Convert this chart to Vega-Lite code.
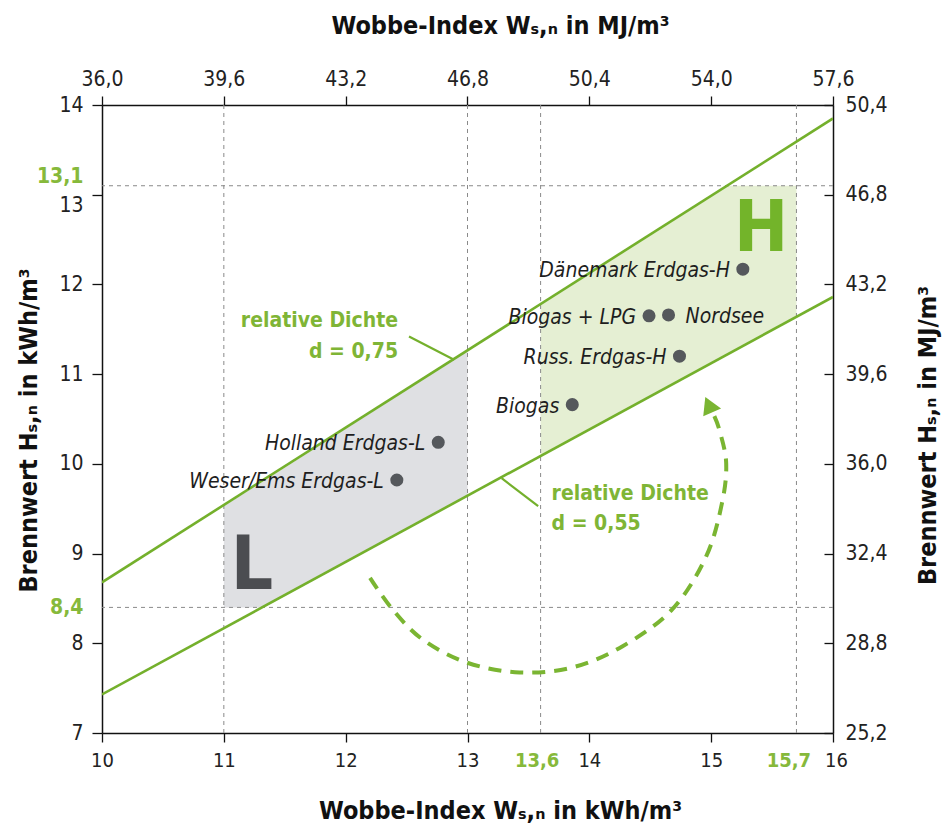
{
  "$schema": "https://vega.github.io/schema/vega-lite/v6.json",
  "autosize": {"type": "none"},
  "padding": {"left": 102, "top": 105, "right": 117, "bottom": 102},
  "width": 731,
  "height": 628,
  "background": "white",
  "config": {
    "view": {"stroke": null},
    "font": "Liberation Sans Narrow, DejaVu Sans Condensed, sans-serif",
    "axis": {
      "grid": false,
      "labelOverlap": false,
      "labelFlush": false,
      "labelBound": false,
      "domainColor": "#111",
      "domainWidth": 1.5,
      "tickColor": "#111",
      "tickWidth": 1.3,
      "labelFont": "Liberation Sans Narrow, DejaVu Sans Condensed, sans-serif",
      "labelFontSize": 21,
      "labelColor": "#222",
      "titleFont": "Liberation Sans Narrow, DejaVu Sans Condensed, sans-serif",
      "titleFontSize": 25,
      "titleFontWeight": "bold",
      "titleColor": "#111"
    }
  },
  "datasets": {
    "regions": [
      {"region": "L", "w": 11, "lo": 8.4, "hi": 9.53},
      {"region": "L", "w": 11.33, "lo": 8.4, "hi": 9.81},
      {"region": "L", "w": 13, "lo": 9.64, "hi": 11.26},
      {"region": "H", "w": 13.6, "lo": 10.09, "hi": 11.78},
      {"region": "H", "w": 15.13, "lo": 11.22, "hi": 13.1},
      {"region": "H", "w": 15.7, "lo": 11.64, "hi": 13.1}
    ],
    "vgrid": [{"w": 11}, {"w": 13}, {"w": 13.6}, {"w": 15.7}],
    "hgrid": [{"h": 8.4}, {"h": 13.1}],
    "density": [
      {"d": "0,75", "w": 10, "h": 8.68},
      {"d": "0,75", "w": 16, "h": 13.85},
      {"d": "0,55", "w": 10, "h": 7.43},
      {"d": "0,55", "w": 16, "h": 11.86}
    ],
    "leaders": [
      {"id": "0,75", "w": 12.52, "h": 11.42, "w2": 12.89, "h2": 11.16},
      {"id": "0,55", "w": 13.28, "h": 9.84, "w2": 13.58, "h2": 9.53}
    ],
    "arc": [
      {"i": 1, "w": 12.2, "h": 8.73},
      {"i": 2, "w": 12.385, "h": 8.377},
      {"i": 3, "w": 12.631, "h": 8.043},
      {"i": 4, "w": 12.992, "h": 7.786},
      {"i": 5, "w": 13.426, "h": 7.675},
      {"i": 6, "w": 13.861, "h": 7.731},
      {"i": 7, "w": 14.27, "h": 7.965},
      {"i": 8, "w": 14.68, "h": 8.377},
      {"i": 9, "w": 14.959, "h": 8.968},
      {"i": 10, "w": 15.09, "h": 9.57},
      {"i": 11, "w": 15.123, "h": 10.016},
      {"i": 12, "w": 15.066, "h": 10.384},
      {"i": 13, "w": 15.02, "h": 10.55}
    ],
    "arrowhead": [{"w": 14.98, "h": 10.66}],
    "gases": [
      {"name": "Dänemark Erdgas-H", "w": 15.26, "h": 12.17},
      {"name": "Biogas + LPG", "w": 14.49, "h": 11.65},
      {"name": "Nordsee", "w": 14.65, "h": 11.66},
      {"name": "Russ. Erdgas-H", "w": 14.74, "h": 11.2},
      {"name": "Biogas", "w": 13.86, "h": 10.66},
      {"name": "Holland Erdgas-L", "w": 12.76, "h": 10.24},
      {"name": "Weser/Ems Erdgas-L", "w": 12.42, "h": 9.82}
    ],
    "notesRight": [
      {"t": "relative Dichte", "w": 12.43, "h": 11.59},
      {"t": "d = 0,75", "w": 12.43, "h": 11.25}
    ],
    "notesLeft": [
      {"t": "relative Dichte", "w": 13.69, "h": 9.66},
      {"t": "d = 0,55", "w": 13.69, "h": 9.33}
    ],
    "letterH": [{"t": "H", "w": 15.41, "h": 12.37}],
    "letterL": [{"t": "L", "w": 11.23, "h": 8.6}],
    "mj": [{"mx": 36, "my": 25.2}, {"mx": 57.6, "my": 50.4}]
  },
  "layer": [
    {
      "encoding": {
        "x": {
          "type": "quantitative",
          "scale": {"domain": [10, 16], "nice": false, "zero": false}
        },
        "y": {
          "type": "quantitative",
          "scale": {"domain": [7, 14], "nice": false, "zero": false}
        }
      },
      "layer": [
        {
          "data": {"name": "regions"},
          "mark": {"type": "area", "opacity": 1},
          "encoding": {
            "x": {
              "field": "w", "type": "quantitative",
              "axis": {
                "orient": "bottom",
                "values": [10, 11, 12, 13, 13.6, 14, 15, 15.7, 16],
                "labelExpr": "replace(format(datum.value, (datum.value % 1 == 0) ? 'd' : '.1f'), '.', ',')",
                "labelFontSize": 20,
                "labelColor": {"condition": {"test": "datum.value == 13.6 || datum.value == 15.7", "value": "#86b93b"}, "value": "#222"},
                "labelFontWeight": {"condition": {"test": "datum.value == 13.6 || datum.value == 15.7", "value": "bold"}, "value": "normal"},
                "labelOffset": {"condition": [{"test": "datum.value == 13.6", "value": -4}, {"test": "datum.value == 15.7", "value": -8}, {"test": "datum.value == 16", "value": 3}], "value": 0},
                "tickOpacity": {"condition": {"test": "datum.value == 13.6 || datum.value == 15.7", "value": 0}, "value": 1},
                "tickSize": 9,
                "labelPadding": 8,
                "title": "Wobbe-Index Wₛ,ₙ in kWh/m³",
                "titleX": 398,
                "titleY": 85,
                "titleAlign": "center",
                "titleBaseline": "alphabetic"
              }
            },
            "y": {
              "field": "hi", "type": "quantitative", "stack": null,
              "axis": {
                "orient": "left",
                "values": [7, 8, 8.4, 9, 10, 11, 12, 13, 13.1, 14],
                "labelExpr": "replace(format(datum.value, (datum.value % 1 == 0) ? 'd' : '.1f'), '.', ',')",
                "labelColor": {"condition": {"test": "datum.value == 8.4 || datum.value == 13.1", "value": "#86b93b"}, "value": "#222"},
                "labelFontWeight": {"condition": {"test": "datum.value == 8.4 || datum.value == 13.1", "value": "bold"}, "value": "normal"},
                "labelOffset": {"condition": [{"test": "datum.value == 13", "value": 11}, {"test": "datum.value == 13.1", "value": -9}], "value": 0},
                "tickOpacity": {"condition": {"test": "datum.value == 8.4 || datum.value == 13.1", "value": 0}, "value": 1},
                "tickSize": 10,
                "labelPadding": 9,
                "title": "Brennwert Hₛ,ₙ in kWh/m³",
                "titleAngle": -90,
                "titleX": -66,
                "titleY": 325,
                "titleAlign": "center",
                "titleBaseline": "alphabetic"
              }
            },
            "y2": {"field": "lo"},
            "color": {
              "field": "region", "type": "nominal",
              "scale": {"domain": ["L", "H"], "range": ["#dfe0e3", "#e5efd3"]},
              "legend": null
            }
          }
        },
        {
          "data": {"name": "vgrid"},
          "mark": {"type": "rule", "color": "#8a8a8a", "strokeWidth": 1, "strokeDash": [4, 4]},
          "encoding": {"x": {"field": "w", "type": "quantitative"}}
        },
        {
          "data": {"name": "hgrid"},
          "mark": {"type": "rule", "color": "#8a8a8a", "strokeWidth": 1, "strokeDash": [4, 4]},
          "encoding": {"y": {"field": "h", "type": "quantitative"}}
        },
        {
          "data": {"name": "density"},
          "mark": {"type": "line", "color": "#74b02c", "strokeWidth": 2.6, "clip": true},
          "encoding": {
            "x": {"field": "w", "type": "quantitative"},
            "y": {"field": "h", "type": "quantitative"},
            "detail": {"field": "d"}
          }
        },
        {
          "data": {"name": "leaders"},
          "mark": {"type": "rule", "color": "#74b02c", "strokeWidth": 2.2},
          "encoding": {
            "x": {"field": "w", "type": "quantitative"},
            "y": {"field": "h", "type": "quantitative"},
            "x2": {"field": "w2"},
            "y2": {"field": "h2"}
          }
        },
        {
          "data": {"name": "arc"},
          "mark": {"type": "line", "color": "#7ab532", "strokeWidth": 4, "strokeDash": [13, 9], "interpolate": "cardinal"},
          "encoding": {
            "x": {"field": "w", "type": "quantitative"},
            "y": {"field": "h", "type": "quantitative"},
            "order": {"field": "i", "type": "quantitative"}
          }
        },
        {
          "data": {"name": "arrowhead"},
          "mark": {"type": "point", "shape": "triangle-up", "filled": true, "color": "#7ab532", "opacity": 1, "size": 380, "angle": 336},
          "encoding": {
            "x": {"field": "w", "type": "quantitative"},
            "y": {"field": "h", "type": "quantitative"}
          }
        },
        {
          "data": {"name": "gases"},
          "mark": {"type": "circle", "color": "#55585c", "opacity": 1, "size": 170},
          "encoding": {
            "x": {"field": "w", "type": "quantitative"},
            "y": {"field": "h", "type": "quantitative"}
          }
        },
        {
          "data": {"name": "gases"},
          "transform": [{"filter": "datum.name != 'Nordsee'"}],
          "mark": {"type": "text", "align": "right", "baseline": "middle", "dx": -13, "dy": 2, "fontSize": 21, "fontStyle": "italic", "color": "#1e1e1e"},
          "encoding": {
            "x": {"field": "w", "type": "quantitative"},
            "y": {"field": "h", "type": "quantitative"},
            "text": {"field": "name"}
          }
        },
        {
          "data": {"name": "gases"},
          "transform": [{"filter": "datum.name == 'Nordsee'"}],
          "mark": {"type": "text", "align": "left", "baseline": "middle", "dx": 17, "dy": 2, "fontSize": 21, "fontStyle": "italic", "color": "#1e1e1e"},
          "encoding": {
            "x": {"field": "w", "type": "quantitative"},
            "y": {"field": "h", "type": "quantitative"},
            "text": {"field": "name"}
          }
        },
        {
          "data": {"name": "notesRight"},
          "mark": {"type": "text", "align": "right", "baseline": "middle", "fontSize": 21, "fontWeight": "bold", "color": "#7fb536"},
          "encoding": {
            "x": {"field": "w", "type": "quantitative"},
            "y": {"field": "h", "type": "quantitative"},
            "text": {"field": "t"}
          }
        },
        {
          "data": {"name": "notesLeft"},
          "mark": {"type": "text", "align": "left", "baseline": "middle", "fontSize": 21, "fontWeight": "bold", "color": "#7fb536"},
          "encoding": {
            "x": {"field": "w", "type": "quantitative"},
            "y": {"field": "h", "type": "quantitative"},
            "text": {"field": "t"}
          }
        },
        {
          "data": {"name": "letterH"},
          "mark": {"type": "text", "align": "center", "baseline": "alphabetic", "fontSize": 72, "fontWeight": "bold", "color": "#73b42a"},
          "encoding": {
            "x": {"field": "w", "type": "quantitative"},
            "y": {"field": "h", "type": "quantitative"},
            "text": {"field": "t"}
          }
        },
        {
          "data": {"name": "letterL"},
          "mark": {"type": "text", "align": "center", "baseline": "alphabetic", "fontSize": 74, "fontWeight": "bold", "color": "#4b4d51"},
          "encoding": {
            "x": {"field": "w", "type": "quantitative"},
            "y": {"field": "h", "type": "quantitative"},
            "text": {"field": "t"}
          }
        }
      ]
    },
    {
      "data": {"name": "mj"},
      "mark": {"type": "point", "opacity": 0},
      "encoding": {
        "x": {
          "field": "mx", "type": "quantitative",
          "scale": {"domain": [36, 57.6], "nice": false, "zero": false},
          "axis": {
            "orient": "top",
            "values": [36, 39.6, 43.2, 46.8, 50.4, 54, 57.6],
            "labelExpr": "replace(format(datum.value, '.1f'), '.', ',')",
            "tickSize": 9,
            "labelPadding": 7,
            "title": "Wobbe-Index Wₛ,ₙ in MJ/m³",
            "titleX": 398,
            "titleY": -72,
            "titleAlign": "center",
            "titleBaseline": "alphabetic"
          }
        },
        "y": {
          "field": "my", "type": "quantitative",
          "scale": {"domain": [25.2, 50.4], "nice": false, "zero": false},
          "axis": {
            "orient": "right",
            "values": [25.2, 28.8, 32.4, 36, 39.6, 43.2, 46.8, 50.4],
            "labelExpr": "replace(format(datum.value, '.1f'), '.', ',')",
            "tickSize": -9,
            "labelPadding": 21,
            "title": "Brennwert Hₛ,ₙ in MJ/m³",
            "titleAngle": -90,
            "titleX": 102,
            "titleY": 330,
            "titleAlign": "center",
            "titleBaseline": "alphabetic"
          }
        }
      }
    }
  ],
  "resolve": {"scale": {"x": "independent", "y": "independent"}}
}
